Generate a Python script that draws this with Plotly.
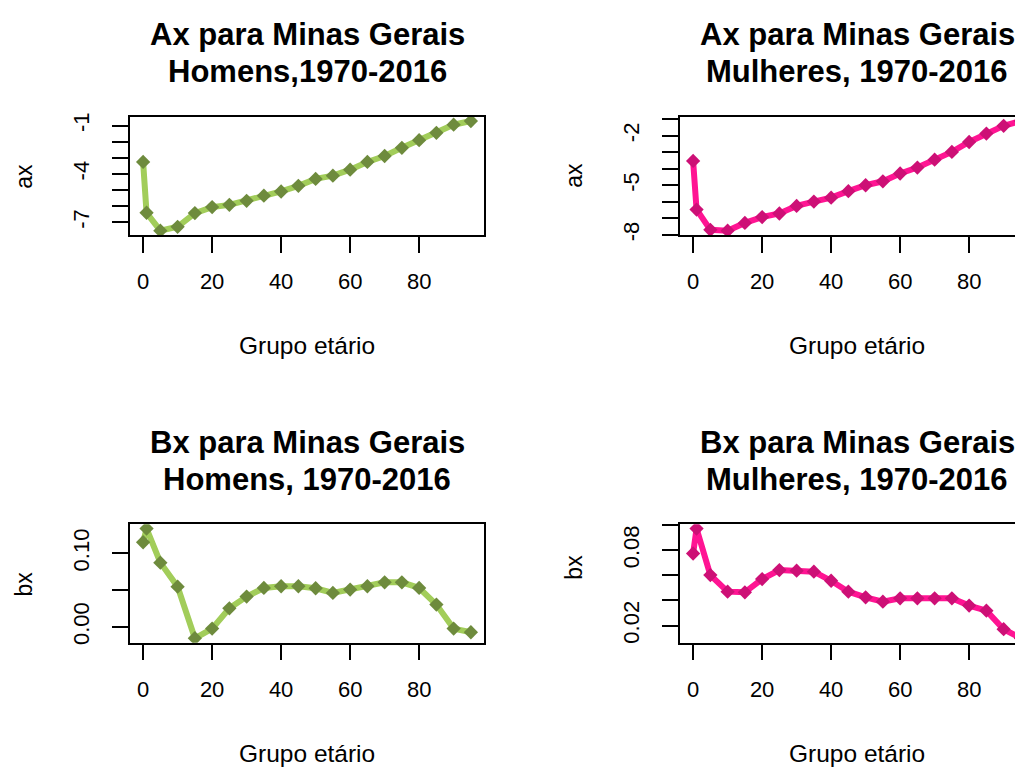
import plotly.graph_objects as go

# ---------------- data ----------------
ages = [0, 1, 5, 10, 15, 20, 25, 30, 35, 40, 45, 50, 55, 60, 65, 70, 75, 80, 85, 90, 95]

ax_homens = [-3.26, -6.41, -7.52, -7.28, -6.43, -6.06, -5.92, -5.67, -5.35, -5.09, -4.74,
             -4.31, -4.11, -3.74, -3.26, -2.89, -2.38, -1.91, -1.45, -0.95, -0.72]
ax_mulheres = [-3.53, -6.47, -7.70, -7.75, -7.28, -6.93, -6.71, -6.25, -5.99, -5.75, -5.36,
               -5.00, -4.76, -4.29, -3.93, -3.45, -2.98, -2.38, -1.87, -1.40, -1.11]
bx_homens = [0.115, 0.1335, 0.0873, 0.0547, -0.0154, -0.0023, 0.0253, 0.0412, 0.0529, 0.0552, 0.0552,
             0.0525, 0.0461, 0.0507, 0.0552, 0.0606, 0.0606, 0.0529, 0.0303, -0.0023, -0.0072]
bx_mulheres = [0.0774, 0.0972, 0.0602, 0.0470, 0.0465, 0.0570, 0.0642, 0.0637, 0.0629, 0.0557, 0.0470,
               0.0425, 0.0390, 0.0417, 0.0417, 0.0417, 0.0417, 0.0359, 0.0319, 0.0171, 0.0099]

x_ticks = [0, 20, 40, 60, 80]
x_ticktext = ["0", "20", "40", "60", "80"]

ax_h_ticks = [-7, -6, -5, -4, -3, -2, -1]
ax_h_ticktext = ["-7", "", "", "-4", "", "", "-1"]
ax_m_ticks = [-8, -7, -6, -5, -4, -3, -2, -1]
ax_m_ticktext = ["-8", "", "", "-5", "", "", "-2", ""]
bx_h_ticks = [0.00, 0.05, 0.10]
bx_h_ticktext = ["0.00", "", "0.10"]
bx_m_ticks = [0.02, 0.04, 0.06, 0.08, 0.10]
bx_m_ticktext = ["0.02", "", "", "0.08", ""]

titles = [
    ("Ax para Minas Gerais", "Homens,1970-2016"),
    ("Ax para Minas Gerais", "Mulheres, 1970-2016"),
    ("Bx para Minas Gerais", "Homens, 1970-2016"),
    ("Bx para Minas Gerais", "Mulheres, 1970-2016"),
]
ylabels = ["ax", "ax", "bx", "bx"]
xlabel = "Grupo etário"

GREEN_LINE, GREEN_PT = "#A2CD5A", "#6E8B3D"
PINK_LINE, PINK_PT = "#FF1493", "#CD1076"

# ---------------- layout geometry (viewport pixels) ----------------
VW, VH = 1023, 774
OFF = 8                      # default page body margin
W, H = VW - OFF, VH - OFF    # figure size
FONT = "Liberation Sans, Arial, sans-serif"


def px(xv):
    return (xv - OFF) / W


def py(yv):
    return 1 - (yv - OFF) / H


# plot boxes in viewport pixels: left, right(full), top, bottom
boxes = [
    (130, 484, 114, 234),
    (680, 1034, 114, 234),
    (130, 484, 527, 647),
    (680, 1034, 527, 647),
]
series = [
    (ax_homens, GREEN_LINE, GREEN_PT, ax_h_ticks, ax_h_ticktext),
    (ax_mulheres, PINK_LINE, PINK_PT, ax_m_ticks, ax_m_ticktext),
    (bx_homens, GREEN_LINE, GREEN_PT, bx_h_ticks, bx_h_ticktext),
    (bx_mulheres, PINK_LINE, PINK_PT, bx_m_ticks, bx_m_ticktext),
]


def r_range(vals):
    lo, hi = min(vals), max(vals)
    pad = 0.04 * (hi - lo)
    return lo - pad, hi + pad


fig = go.Figure()
annotations = []
for i, ((l, r, t, b), (yv, lc, pc, yt, ytt)) in enumerate(zip(boxes, series)):
    n = i + 1
    xs = "x" if n == 1 else f"x{n}"
    ys = "y" if n == 1 else f"y{n}"
    fig.add_trace(go.Scatter(
        x=ages, y=yv, xaxis=xs, yaxis=ys, mode="lines+markers",
        line=dict(color=lc, width=6),
        marker=dict(symbol="diamond", size=11, color=pc),
        showlegend=False, hoverinfo="x+y",
    ))
    x0, x1 = r_range(ages)
    vis_r = min(r, VW)
    x1_vis = x0 + (x1 - x0) * (vis_r - l) / (r - l)
    y0, y1 = r_range(yv)
    clipped = r > VW
    fig.layout[("xaxis" if n == 1 else f"xaxis{n}")] = dict(
        domain=[px(l), min(1.0, px(vis_r))], range=[x0, x1_vis], anchor=ys,
        showline=True, mirror=True, linecolor="black", linewidth=1.5,
        ticks="outside", ticklen=16, tickwidth=1.5, tickcolor="black",
        tickvals=x_ticks, ticktext=x_ticktext, showgrid=False, zeroline=False,
        tickfont=dict(family=FONT, size=22, color="black"), ticklabelstandoff=10,
    )
    fig.layout[("yaxis" if n == 1 else f"yaxis{n}")] = dict(
        domain=[py(b), py(t)], range=[y0, y1], anchor=xs,
        showline=True, mirror=(not clipped), linecolor="black", linewidth=1.5,
        ticks="outside", ticklen=16, tickwidth=1.5, tickcolor="black",
        tickvals=yt, ticktext=ytt, showgrid=False, zeroline=False, tickangle=-90,
        tickfont=dict(family=FONT, size=22, color="black"), ticklabelstandoff=14,
    )
    cx = (l + r) / 2
    cy = (t + b) / 2
    # title, two lines
    for line, ty in zip(titles[i], (t - 82.7, t - 45.7)):
        annotations.append(dict(
            text=f"<b>{line}</b>", x=px(cx), y=py(ty), xref="paper", yref="paper",
            xanchor="center", yanchor="middle", showarrow=False,
            font=dict(family=FONT, size=31, color="black"),
        ))
    # x label
    annotations.append(dict(
        text=xlabel, x=px(cx), y=py(b + 112), xref="paper", yref="paper",
        xanchor="center", yanchor="middle", showarrow=False,
        font=dict(family=FONT, size=24.5, color="black"),
    ))
    # y label
    ly = cy if i != 3 else cy - 16
    annotations.append(dict(
        text=ylabels[i], x=px(l - 106), y=py(ly), xref="paper", yref="paper",
        xanchor="center", yanchor="middle", showarrow=False, textangle=-90,
        font=dict(family=FONT, size=23, color="black"),
    ))

fig.update_layout(
    width=W, height=H, margin=dict(l=0, r=0, t=0, b=0),
    paper_bgcolor="white", plot_bgcolor="white",
    annotations=annotations,
)
fig.write_html("out.html")
